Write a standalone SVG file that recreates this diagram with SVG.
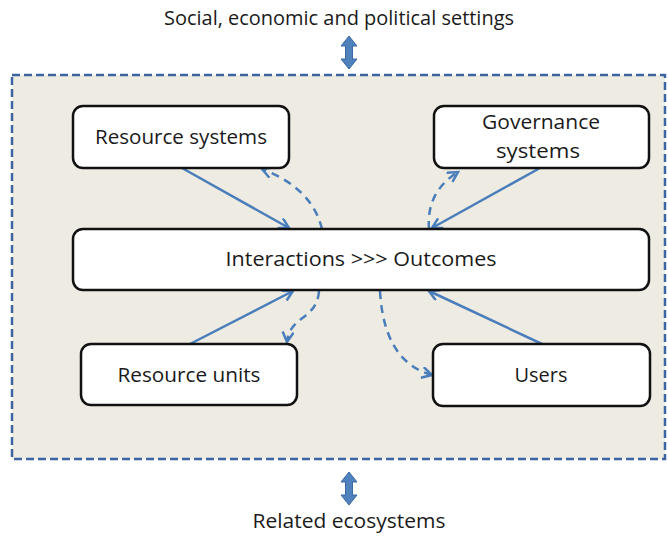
<svg xmlns="http://www.w3.org/2000/svg" width="668" height="536" viewBox="0 0 668 536">
<style>
.t{font-family:"Open Sans","Liberation Sans",sans-serif;font-size:20.5px;fill:#1a1a1a;text-anchor:middle}
.box{fill:#ffffff;stroke:#111;stroke-width:2.5}
.c{fill:none;stroke:#4a7ebb;stroke-width:2.5}
.d{fill:none;stroke:#4a7ebb;stroke-width:2.5;stroke-dasharray:8 6}
.blk{fill:#4f81bd;stroke:#3a69a3;stroke-width:1}
</style>
<defs>
<marker id="ah" markerWidth="14" markerHeight="14" refX="11" refY="6" orient="auto" markerUnits="userSpaceOnUse">
<path d="M1,0.5 L11,6 L1,11.5" fill="none" stroke="#4a7ebb" stroke-width="2.5"/>
</marker>
</defs>
<rect x="0" y="0" width="668" height="536" fill="#ffffff"/>
<g id="frame">
<rect x="12" y="75" width="653" height="384" fill="#eeebe2" stroke="#3c64a0" stroke-width="2.5" stroke-dasharray="8 4"/>
</g>
<g id="settings">
<text class="t" x="339" y="25" textLength="350" lengthAdjust="spacingAndGlyphs">Social, economic and political settings</text>
<polygon class="blk" points="349,36 357,46 352.5,46 352.5,59 357,59 349,69 341,59 345.5,59 345.5,46 341,46"/>
</g>
<g id="ecosystems">
<polygon class="blk" points="349,472 357,482 352.5,482 352.5,495 357,495 349,505 341,495 345.5,495 345.5,482 341,482"/>
<text class="t" x="349" y="528" textLength="193" lengthAdjust="spacingAndGlyphs">Related ecosystems</text>
</g>
<g id="connectors">
<path class="c" d="M182,168 L289,228" marker-end="url(#ah)"/>
<path class="c" d="M540,168 L432,228" marker-end="url(#ah)"/>
<path class="c" d="M190,344 L293,291" marker-end="url(#ah)"/>
<path class="c" d="M542,344 L429,291" marker-end="url(#ah)"/>
<path class="d" d="M322,229 Q312,188 262,169" marker-end="url(#ah)"/>
<path class="d" d="M429,229 Q426,192 458,172" marker-end="url(#ah)"/>
<path class="d" d="M319,291 C317,320 290,315 287,342" marker-end="url(#ah)"/>
<path class="d" d="M380,291 Q384,362 432,375" marker-end="url(#ah)"/>
</g>
<g id="resource-systems">
<rect class="box" x="73" y="106" width="216" height="62" rx="10"/>
<text class="t" x="181" y="144" textLength="172" lengthAdjust="spacingAndGlyphs">Resource systems</text>
</g>
<g id="governance-systems">
<rect class="box" x="434" y="106" width="215" height="62" rx="10"/>
<text class="t" x="541" y="129" textLength="118" lengthAdjust="spacingAndGlyphs">Governance</text>
<text class="t" x="538" y="158" textLength="84" lengthAdjust="spacingAndGlyphs">systems</text>
</g>
<g id="interactions">
<rect class="box" x="73" y="229" width="576" height="61" rx="10"/>
<text class="t" x="361" y="266" textLength="271" lengthAdjust="spacingAndGlyphs">Interactions &gt;&gt;&gt; Outcomes</text>
</g>
<g id="resource-units">
<rect class="box" x="81" y="344" width="216" height="61" rx="10"/>
<text class="t" x="189" y="382" textLength="143" lengthAdjust="spacingAndGlyphs">Resource units</text>
</g>
<g id="users">
<rect class="box" x="433" y="344" width="217" height="62" rx="10"/>
<text class="t" x="541" y="382" textLength="53" lengthAdjust="spacingAndGlyphs">Users</text>
</g>
</svg>
